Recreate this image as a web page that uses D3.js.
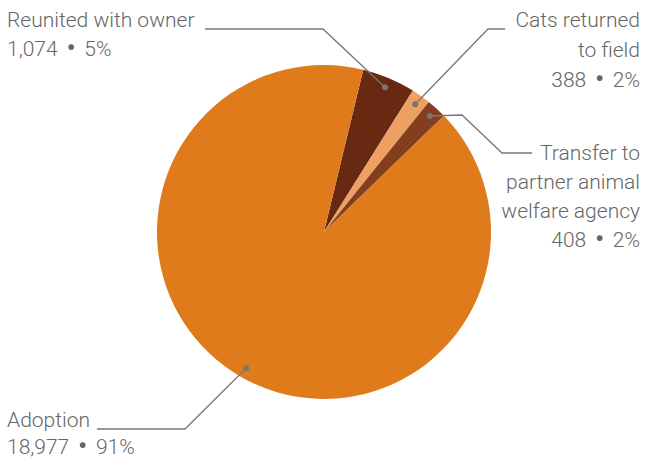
<!DOCTYPE html>
<html><head><meta charset="utf-8">
<script src="https://cdn.jsdelivr.net/npm/d3@7"></script>
<style>body{margin:0;background:#fff}svg{display:block}text{font-family:Roboto,sans-serif;font-weight:300;fill:#666;font-size:21px}</style>
</head><body><svg width="645" height="462"></svg>
<script>
const categories = ["Reunited with owner","Cats returned to field","Transfer to partner animal welfare agency","Adoption"];
const values = [1074, 388, 408, 18977];
const percents = ["5%","2%","2%","91%"];
const colors = ["#672912","#EDA062","#833F1D","#E07B1C"];

const svg = d3.select("svg");
const cx = 324, cy = 232, R = 167;
const start = 13.6 * Math.PI / 180;
const pie = d3.pie().sort(null).value(d => d).startAngle(start).endAngle(start + 2*Math.PI);
const arcs = pie(values);
const arc = d3.arc().innerRadius(0).outerRadius(R);
const g = svg.append("g").attr("transform", `translate(${cx},${cy})`);
g.selectAll("path").data(arcs).join("path").attr("d", arc).attr("fill", (d,i) => colors[i]);

const fmt = d3.format(",");
const dotR = 157;
function dotPos(a){ const m = (a.startAngle + a.endAngle)/2; return [cx + dotR*Math.sin(m), cy - dotR*Math.cos(m)]; }

const labels = [
  {lines:["Reunited with owner"], anchor:"start", x:7, y:27, lh:29, path:[[323,29],[205,29]]},
  {lines:["Cats returned","to field"], anchor:"end", x:640, y:27, lh:30, path:[[488,29],[505,29]]},
  {lines:["Transfer to","partner animal","welfare agency"], anchor:"end", x:640, y:160, lh:29, path:[[462,115],[502,153],[532,153]]},
  {lines:["Adoption"], anchor:"start", x:7, y:427, lh:27, path:[[185,429],[97,429]]}
];
labels.forEach((L,i) => {
  const p = dotPos(arcs[i]);
  svg.append("path").attr("d", d3.line()([p, ...L.path])).attr("fill","none").attr("stroke","#777").attr("stroke-width",1.3);
  svg.append("circle").attr("cx",p[0]).attr("cy",p[1]).attr("r",3).attr("fill","#777");
  const t = svg.append("text").attr("text-anchor", L.anchor);
  L.lines.forEach((s,j) => t.append("tspan").attr("x",L.x).attr("y",L.y + j*L.lh).text(s));
  const t2 = svg.append("text").attr("text-anchor", L.anchor).attr("y", L.y + L.lines.length*L.lh).attr("x", L.x);
  t2.append("tspan").text(fmt(values[i]));
  t2.append("tspan").attr("dx",9).style("font-size","24px").style("font-weight","700").text("\u2022");
  t2.append("tspan").attr("dx",9).text(percents[i]);
});
</script></body></html>
